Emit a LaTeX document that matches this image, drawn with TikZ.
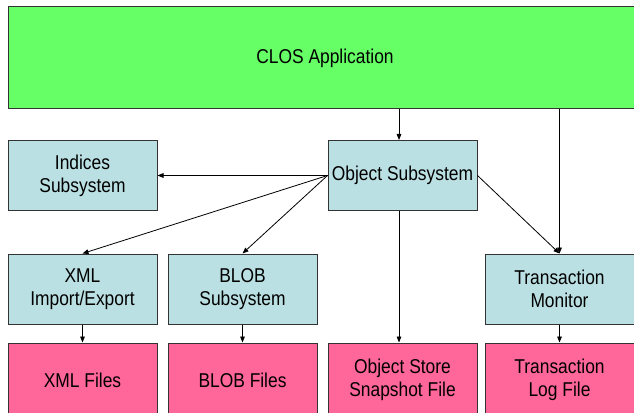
\documentclass[tikz,border=0pt]{standalone}
\usepackage{fontspec}
\setmainfont{Liberation Sans}[FakeStretch=0.87]
\usepackage{tikz}
\usetikzlibrary{calc,positioning,arrows.meta}
\definecolor{appgreen}{HTML}{66FF66}
\definecolor{subblue}{HTML}{BBE0E3}
\definecolor{filepink}{HTML}{FF6699}
\tikzset{
  line/.style={-{Triangle[length=4.5pt,width=3.5pt]}, line width=0.6pt},
  box/.style={draw=black!80, line width=0.75pt, align=center, inner sep=1pt,
    minimum width=149*0.75pt, minimum height=70*0.75pt,
    font=\fontsize{15}{17.25}\selectfont},
  subbox/.style={box, fill=subblue},
  filebox/.style={box, fill=filepink, minimum height=74*0.75pt},
  appbox/.style={box, fill=appgreen, minimum width=634*0.75pt, minimum height=102*0.75pt}
}
\begin{document}
\begin{tikzpicture}[x=0.75pt, y=-0.75pt]
  \clip (0,0) rectangle (634,413);
  \node[appbox] (clos) at (325,58) {CLOS Application};
  % subsystems
  \node[subbox] (indices) at (82.5,175.5) {Indices\\Subsystem};
  \node[subbox] (object)  at (402.5,175.5) {Object Subsystem};
  \node[subbox] (xmlio)   at (82.5,289) {XML\\Import/Export};
  \node[subbox] (blob)    at (242.5,289) {BLOB\\Subsystem};
  \node[subbox] (txmon)   at (559.5,289) {Transaction\\Monitor};
  % files
  \node[filebox] (xmlfiles)  at (82.5,380) {XML Files};
  \node[filebox] (blobfiles) at (242.5,380) {BLOB Files};
  \node[filebox] (snapfile)  at (402.5,380) {Object Store\\Snapshot File};
  \node[filebox] (logfile)   at (559.5,380) {Transaction\\Log File};
  \coordinate (otap) at (399,0);
  % wiring
  \draw[line] (clos.south -| otap) -- (object.north -| otap);
  \draw[line] (clos.south -| txmon.north) -- (txmon.north);
  \draw[line] (object.west) -- (indices.east);
  \draw[line] (object.west) -- (xmlio.north);
  \draw[line] (object.west) -- (blob.north);
  \draw[line] (object.east) -- (txmon.north);
  \draw[line] (object.south -| otap) -- (snapfile.north -| otap);
  \foreach \a/\b in {xmlio/xmlfiles, blob/blobfiles, txmon/logfile}
    \draw[line] (\a.south) -- (\b.north);
\end{tikzpicture}
\end{document}
